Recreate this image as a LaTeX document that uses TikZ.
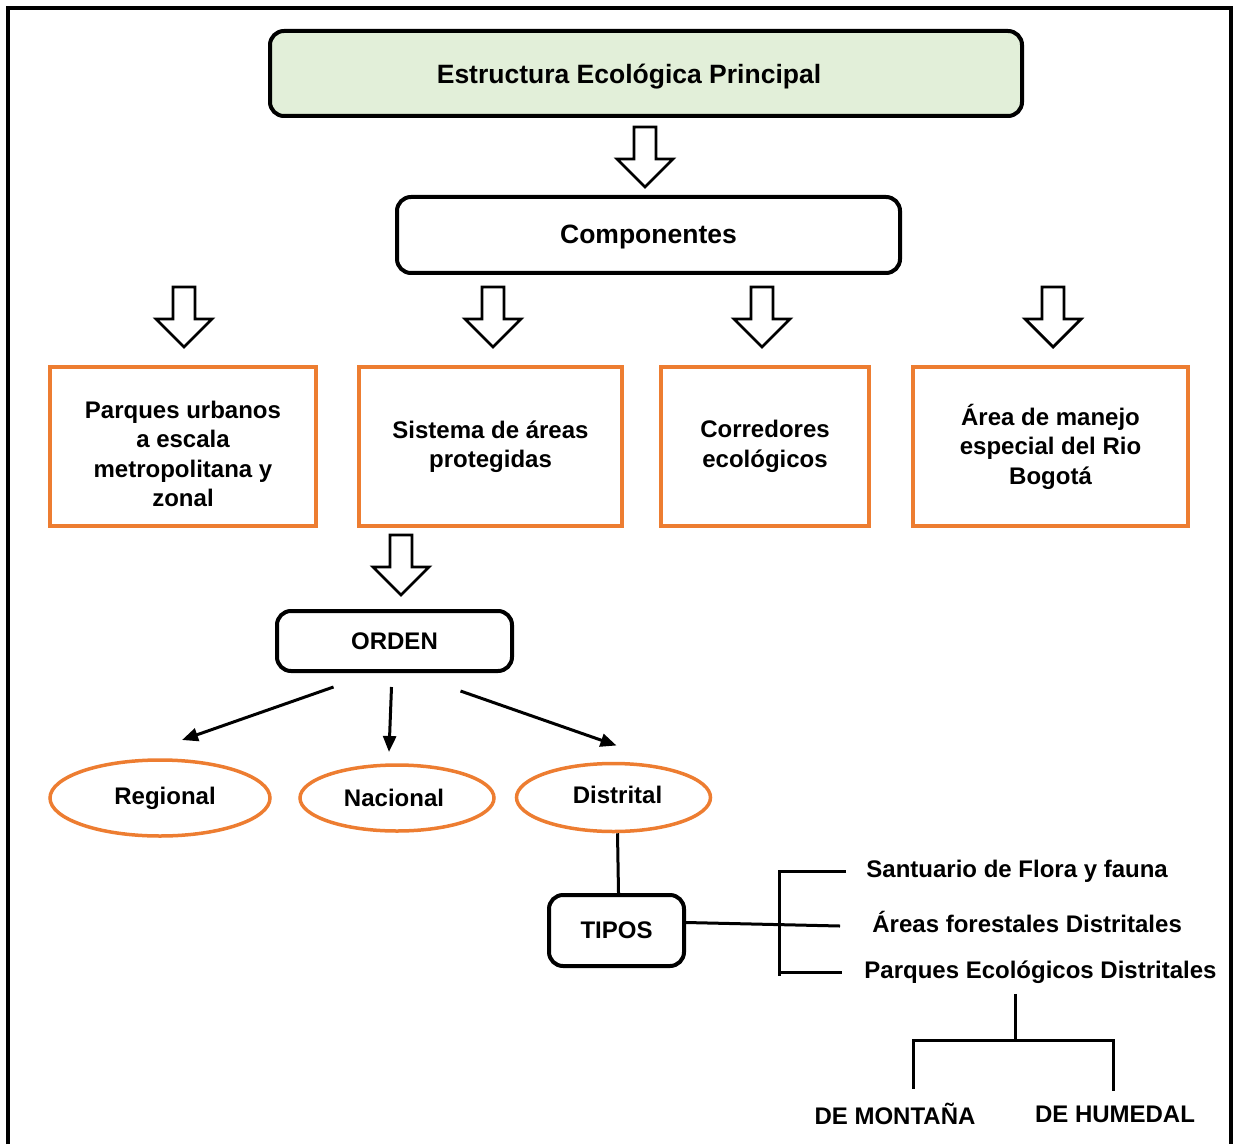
\documentclass[tikz,border=0pt]{standalone}
\usepackage{fontspec}
\setmainfont{Liberation Sans}
\usetikzlibrary{shapes.geometric,arrows.meta,positioning}
\definecolor{boxorange}{RGB}{237,125,49}
\definecolor{titlegreen}{RGB}{226,239,217}
\newcommand{\txt}{\bfseries\fontsize{12}{14.75}\selectfont}
\newcommand{\bigtxt}{\bfseries\fontsize{13.25}{16}\selectfont}
\tikzset{
  roundbox/.style={draw, line width=2pt, rounded corners=7pt, align=center, font=\txt},
  orangebox/.style={draw=boxorange, line width=1.8pt, align=center, inner sep=0pt, font=\txt},
  oval/.style={ellipse, draw=boxorange, line width=1.75pt, inner sep=0pt, font=\txt},
  label/.style={inner sep=0pt, font=\txt},
  conn/.style={line width=1.5pt},
  arr/.style={conn, -{Triangle[length=8pt,width=6.5pt]}},
  pics/downarrow/.style={code={
    \draw[line width=1.4pt, fill=white, line join=miter]
      (-11,0) -- (11,0) -- (11,32) -- (28,32) -- (0,60) -- (-28,32) -- (-11,32) -- cycle;}}
}
\begin{document}
\begin{tikzpicture}[x=0.5pt, y=-0.5pt]
  \useasboundingbox (0,0) rectangle (1234,1144);
  % Frame (open at the bottom)
  \draw[line width=2pt] (8,1144) -- (8,8) -- (1231,8) -- (1231,1144);

  % Title and components
  \node[roundbox, fill=titlegreen, font=\bigtxt, minimum width=376pt, minimum height=42.5pt] (title) at (646,73.5) {\raisebox{-1.5pt}[\height][\depth]{Estructura Ecológica Principal}\kern17pt};
  \pic at (645,127) {downarrow};
  \node[roundbox, font=\bigtxt, minimum width=251.5pt, minimum height=38pt] (comp) at (648.5,235) {\raisebox{-1pt}[\height][\depth]{Componentes}};

  % The four components
  \foreach \x in {184,493,762,1053} \pic at (\x,287) {downarrow};
  \node[orangebox, minimum width=133pt, minimum height=79.5pt] (parques) at (183,446.5) {\rule{0pt}{16pt}Parques urbanos\\a escala\\metropolitana y\\zonal};
  \node[orangebox, minimum width=131.5pt, minimum height=79.5pt] (sistema) at (490.5,446.5) {Sistema de áreas\\protegidas};
  \node[orangebox, minimum width=104pt, minimum height=79.5pt] (corred) at (765,446.5) {Corredores\\ecológicos};
  \node[orangebox, minimum width=137.5pt, minimum height=79.5pt] (rio) at (1050.5,446.5) {Área de manejo\\especial del Rio\\Bogotá};

  % Orden
  \pic at (401,535) {downarrow};
  \node[roundbox, minimum width=117.5pt, minimum height=30pt] (orden) at (394.5,641) {ORDEN};
  \node[oval, minimum width=110pt, minimum height=38pt] (regional) at (160,798) {\hspace{5pt}Regional};
  \node[oval, minimum width=97pt, minimum height=33pt] (nacional) at (397,798) {Nacional\kern3pt};
  \node[oval, minimum width=97pt, minimum height=34pt] (distrital) at (613.5,797.5) {\hspace{4pt}Distrital\vphantom{g}};
  \coordinate (o1) at ([shift={(-61,14)}]orden.south);
  \coordinate (o2) at ([shift={(-3,14)}]orden.south);
  \coordinate (o3) at ([shift={(66,18)}]orden.south);
  \draw[arr] (o1) -- ([shift={(22,-58)}]regional.center);
  \draw[arr] (o2) -- ([shift={(-8,-46)}]nacional.center);
  \draw[arr] (o3) -- ([shift={(3,-52)}]distrital.center);

  % Tipos
  \node[roundbox, minimum width=67.5pt, minimum height=35.5pt] (tipos) at (616.5,930.5) {TIPOS};
  \draw[conn] ([shift={(4,0)}]distrital.south) -- ([shift={(2,0)}]tipos.north);
  \node[label, anchor=west] (santuario) at (866,871) {Santuario de Flora y fauna};
  \node[label, anchor=west] (forestal) at (872,922) {Áreas forestales Distritales};
  \node[label, anchor=west] (ecolog) at (864,972) {Parques Ecológicos Distritales};
  \coordinate (brk) at (779,0);
  \draw[conn] ([shift={(-20,0)}]santuario.west) -- (brk |- santuario.west) -- ([shift={(0,4)}]brk |- ecolog.west);
  \draw[conn] (brk |- ecolog.west) -- ([shift={(-22,0)}]ecolog.west);
  \draw[conn] ([shift={(0,-8)}]tipos.east) -- ([shift={(-32,4)}]forestal.west);

  % Parques ecologicos
  \node[label] (montana) at (895,1114) {DE MONTAÑA};
  \node[label] (humedal) at (1115,1114) {DE HUMEDAL};
  \coordinate (split) at (1015,1040);
  \draw[conn] (split |- ecolog.south) ++(0,10) -- (split);
  \draw[conn] (montana.north -| 913,0) ++(0,-14) |- (split) -| ([shift={(-2,-14)}]humedal.north);
\end{tikzpicture}
\end{document}
